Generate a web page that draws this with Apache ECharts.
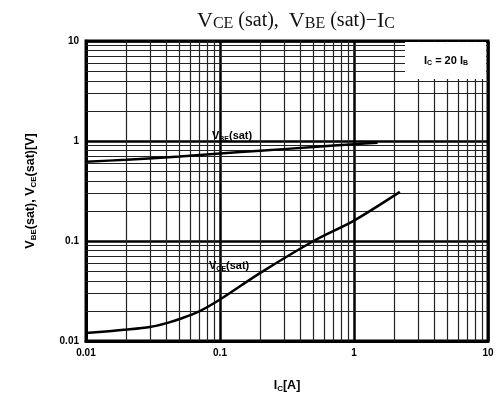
<!DOCTYPE html>
<html><head><meta charset="utf-8">
<script src="https://cdn.jsdelivr.net/npm/echarts@6/dist/echarts.min.js"></script>
<style>html,body{margin:0;padding:0;background:#fff}#c{width:499px;height:403px}</style>
</head><body><div id="c"></div>
<script>
// Data
var vbeIc = [0.01, 0.02, 0.05, 0.1, 0.2, 0.5, 1, 1.5];
var vbeV  = [0.62, 0.65, 0.70, 0.75, 0.80, 0.87, 0.93, 0.96];
var vceIc = [0.01, 0.02, 0.03, 0.04, 0.05, 0.07, 0.1, 0.2, 0.5, 1, 2.2];
var vceV  = [0.012, 0.013, 0.0138, 0.0151, 0.0166, 0.0198, 0.026, 0.048, 0.1, 0.16, 0.31];
var xTicks = [0.01, 0.1, 1, 10];
var yTicks = [0.01, 0.1, 1, 10];
var minorX = [0.02,0.03,0.04,0.05,0.06,0.07,0.08,0.09,0.2,0.3,0.4,0.5,0.6,0.7,0.8,0.9,2,3,4,5,6,7,8,9];
var minorY = [0.02,0.03,0.04,0.05,0.06,0.07,0.08,0.09,0.2,0.3,0.4,0.5,0.6,0.7,0.8,0.9,2,3,4,5,6,7,8,9];
var labelVbe = [0.123, 1.12];
var labelVce = [0.117, 0.056];

function pairs(xs, ys){ return xs.map(function(x,i){return [x, ys[i]];}); }
var sans = 'Liberation Sans';
var chart = echarts.init(document.getElementById('c'));
var minorLines = minorX.map(function(v){return {xAxis: v};})
  .concat(minorY.map(function(v){return {yAxis: v};}));
var subRich = {
  v: {fontFamily: sans, fontWeight: 'bold', fontSize: 11, color: '#000'},
  s: {fontFamily: sans, fontWeight: 'bold', fontSize: 7, color: '#000', verticalAlign: 'bottom', padding: [5,0,0,0]}
};
var nameRich = {
  v: {fontFamily: sans, fontWeight: 'bold', fontSize: 12.5, color: '#000'},
  s: {fontFamily: sans, fontWeight: 'bold', fontSize: 8, color: '#000', verticalAlign: 'bottom', padding: [6,0,0,0]}
};
chart.setOption({
  animation: false,
  backgroundColor: '#fff',
  title: {
    text: '{a|V}{b|CE}{c| (sat),  }{a|V}{b|BE}{c| (sat)\u2212}{a|I}{b|C}',
    left: 192, top: 5,
    textStyle: {
      fontWeight: 'normal',
      rich: {
        a: {fontFamily: 'Liberation Serif', fontWeight: 'normal', fontSize: 22, color: '#111'},
        b: {fontFamily: 'Liberation Serif', fontWeight: 'normal', fontSize: 16, color: '#111', verticalAlign: 'bottom', padding: [3,0,0,0]},
        c: {fontFamily: 'Liberation Serif', fontWeight: 'normal', fontSize: 20, color: '#111'}
      }
    }
  },
  grid: {left: 86, right: 11, top: 41, bottom: 62, show: true, borderColor: '#000', borderWidth: 3, backgroundColor: 'transparent'},
  xAxis: {
    type: 'log', logBase: 10, min: 0.01, max: 10,
    name: '{v|I}{s|C}{v|[A]}', nameLocation: 'middle', nameGap: 38,
    nameTextStyle: {rich: nameRich},
    axisLine: {show: true, lineStyle: {color: '#000', width: 3}},
    axisTick: {show: false},
    axisLabel: {fontFamily: sans, fontWeight: 'bold', fontSize: 10, color: '#000', margin: 7,
      formatter: function(v){ return String(+v.toPrecision(3)); }},
    splitLine: {show: true, lineStyle: {color: '#000', width: 2.5}}
  },
  yAxis: {
    type: 'log', logBase: 10, min: 0.01, max: 10,
    name: '{v|V}{s|BE}{v|(sat), V}{s|CE}{v|(sat)[V]}', nameLocation: 'middle', nameGap: 48, nameRotate: 90,
    nameTextStyle: {rich: nameRich},
    axisLine: {show: true, lineStyle: {color: '#000', width: 3}},
    axisTick: {show: false},
    axisLabel: {fontFamily: sans, fontWeight: 'bold', fontSize: 10, color: '#000', margin: 7,
      formatter: function(v){ return String(+v.toPrecision(3)); }},
    splitLine: {show: true, lineStyle: {color: '#000', width: 2.5}}
  },
  series: [
    {
      type: 'line', data: [], z: 1, silent: true,
      markLine: {silent: true, symbol: ['none','none'], label: {show: false},
        lineStyle: {color: '#222', width: 1.2, type: 'solid'}, data: minorLines}
    },
    {
      name: 'VBE', type: 'line', smooth: 0.3, symbol: 'none', z: 5,
      lineStyle: {color: '#000', width: 2.5}, data: pairs(vbeIc, vbeV),
      markPoint: {symbol: 'rect', symbolSize: 1, itemStyle: {color: 'transparent'},
        label: {show: true, position: 'inside', formatter: '{v|V}{s|BE}{v|(sat)}', rich: subRich},
        data: [{coord: labelVbe}]}
    },
    {
      name: 'VCE', type: 'line', smooth: 0.3, symbol: 'none', z: 5,
      lineStyle: {color: '#000', width: 2.5}, data: pairs(vceIc, vceV),
      markPoint: {symbol: 'rect', symbolSize: 1, itemStyle: {color: 'transparent'},
        label: {show: true, position: 'inside', formatter: '{v|V}{s|CE}{v|(sat)}', rich: subRich},
        data: [{coord: labelVce}]}
    }
  ],
  graphic: [
    {type: 'rect', z: 100, shape: {x: 405, y: 42, width: 81, height: 37}, style: {fill: '#fff'}},
    {type: 'text', z: 101, x: 446, y: 61,
      style: {text: '{v|I}{s|C}{v| = 20 I}{s|B}', rich: subRich, align: 'center', verticalAlign: 'middle'}}
  ]
});
</script></body></html>
